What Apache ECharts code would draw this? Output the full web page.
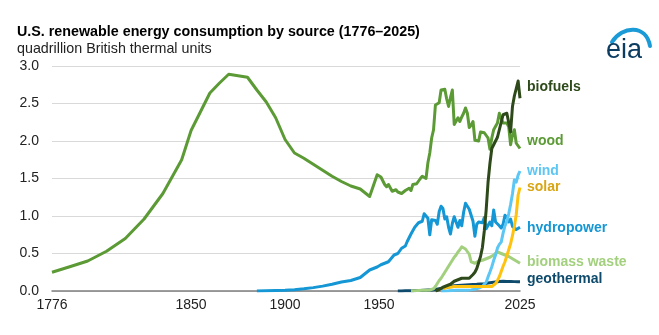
<!DOCTYPE html>
<html>
<head>
<meta charset="utf-8">
<script src="https://cdn.jsdelivr.net/npm/echarts@6/dist/echarts.min.js"></script>
<style>
  html, body { margin: 0; padding: 0; background: #fff; }
  #chart { width: 659px; height: 335px; }
</style>
</head>
<body>
<div id="chart"></div>
<script>
// early estimates (irregular years), then annual data 1949-2025
const earlyYears = [1776, 1785, 1795, 1805, 1815, 1825, 1835, 1845, 1850, 1855, 1860, 1865, 1870, 1875,
  1880, 1885, 1890, 1895, 1900, 1905, 1910, 1915, 1920, 1925, 1930, 1935, 1940, 1945]
const woodEarly = [0.25, 0.32, 0.40, 0.53, 0.70, 0.96, 1.30, 1.75, 2.14, 2.39, 2.64, 2.77, 2.89, 2.87,
  2.85, 2.68, 2.52, 2.31, 2.02, 1.84, 1.77, 1.69, 1.61, 1.53, 1.46, 1.40, 1.36, 1.26]
// hydro from 1885
const hydroEarly = [0.00, 0.003, 0.006, 0.01, 0.018, 0.03, 0.045, 0.065, 0.09, 0.12, 0.14, 0.18, 0.28]

const years = [1949, 1950, 1951, 1952, 1953, 1954, 1955, 1956, 1957, 1958, 1959, 1960, 1961, 1962, 1963,
  1964, 1965, 1966, 1967, 1968, 1969, 1970, 1971, 1972, 1973, 1974, 1975, 1976, 1977, 1978, 1979, 1980,
  1981, 1982, 1983, 1984, 1985, 1986, 1987, 1988, 1989, 1990, 1991, 1992, 1993, 1994, 1995, 1996, 1997,
  1998, 1999, 2000, 2001, 2002, 2003, 2004, 2005, 2006, 2007, 2008, 2009, 2010, 2011, 2012, 2013, 2014,
  2015, 2016, 2017, 2018, 2019, 2020, 2021, 2022, 2023, 2024, 2025]

// each annual array ends in 2025
const wood = [1.55, 1.56, 1.52, 1.47, 1.42, 1.39, 1.42, 1.41, 1.33, 1.32,
  1.35, 1.32, 1.30, 1.30, 1.32, 1.34, 1.34, 1.37, 1.34, 1.42,
  1.44, 1.43, 1.43, 1.50, 1.53, 1.54, 1.50, 1.71, 1.84, 2.04,
  2.15, 2.48, 2.50, 2.51, 2.68, 2.69, 2.69, 2.56, 2.46, 2.58,
  2.68, 2.22, 2.21, 2.31, 2.26, 2.32, 2.37, 2.44, 2.37, 2.18,
  2.21, 2.26, 2.01, 1.99, 2.00, 2.12, 2.14, 2.11, 2.10, 2.04,
  1.89, 2.04, 2.15, 2.13, 2.24, 2.37, 2.30, 2.24, 2.22, 2.24,
  2.19, 1.95, 2.08, 2.15, 1.97, 1.98, 1.90]
const hydropower = [0.32, 0.34, 0.35, 0.36, 0.37, 0.37, 0.39, 0.42, 0.45, 0.48,
  0.47, 0.50, 0.52, 0.57, 0.56, 0.60, 0.66, 0.67, 0.76, 0.76,
  0.85, 0.85, 0.91, 0.93, 0.93, 1.03, 1.02, 0.97, 0.75, 0.95,
  0.95, 0.94, 0.89, 1.06, 1.13, 1.10, 0.96, 0.99, 0.85, 0.76,
  0.90, 0.99, 0.97, 0.85, 0.94, 0.87, 1.05, 1.17, 1.19, 1.09,
  1.07, 0.93, 0.73, 0.89, 0.92, 0.90, 0.91, 0.98, 0.83, 0.85,
  0.92, 0.87, 1.08, 0.92, 0.90, 0.87, 0.84, 0.89, 1.01, 0.98,
  0.92, 0.96, 0.86, 0.87, 0.82, 0.82, 0.85]
// from 1980
const biofuels = [0.00, 0.01, 0.02, 0.04, 0.05, 0.06, 0.07, 0.08, 0.09,
  0.11, 0.13, 0.14, 0.15, 0.16, 0.17, 0.19, 0.17, 0.18, 0.17,
  0.19, 0.22, 0.25, 0.30, 0.38, 0.46, 0.58, 0.80, 1.08, 1.45,
  1.70, 1.90, 1.95, 1.97, 2.05, 2.15, 2.25, 2.35, 2.36, 2.37,
  2.35, 2.12, 2.46, 2.60, 2.70, 2.80, 2.57]
// from 1983
const wind = [0.000, 0.000, 0.001, 0.002, 0.002, 0.003, 0.008, 0.010, 0.010, 0.010,
  0.010, 0.012, 0.011, 0.011, 0.011, 0.010, 0.015, 0.019, 0.023, 0.036,
  0.038, 0.049, 0.061, 0.091, 0.118, 0.188, 0.253, 0.323, 0.409, 0.481,
  0.573, 0.621, 0.652, 0.772, 0.867, 0.930, 1.029, 1.153, 1.296, 1.481,
  1.452, 1.545, 1.600]
// from 1984
const solar = [0.03, 0.05, 0.05, 0.05, 0.05, 0.06, 0.06, 0.06, 0.06, 0.06,
  0.06, 0.06, 0.06, 0.06, 0.06, 0.06, 0.06, 0.06, 0.06, 0.06,
  0.06, 0.06, 0.06, 0.06, 0.06, 0.06, 0.06, 0.07, 0.10, 0.14,
  0.19, 0.26, 0.33, 0.39, 0.47, 0.55, 0.63, 0.74, 0.86, 1.02,
  1.28, 1.38]
// from 1967
const biomassWaste = [0.003, 0.004, 0.005, 0.006, 0.007, 0.008, 0.009, 0.010, 0.011, 0.012,
  0.014, 0.018, 0.030, 0.060, 0.100, 0.140, 0.170, 0.210, 0.250, 0.290,
  0.330, 0.370, 0.410, 0.450, 0.480, 0.520, 0.550, 0.590, 0.570, 0.560,
  0.550, 0.490, 0.390, 0.370, 0.370, 0.390, 0.400, 0.400, 0.410, 0.420,
  0.430, 0.440, 0.450, 0.470, 0.480, 0.500, 0.520, 0.520, 0.500, 0.490,
  0.480, 0.470, 0.460, 0.440, 0.430, 0.420, 0.400, 0.390, 0.370]
// from 1960
const geothermal = [0.001, 0.001, 0.001, 0.002, 0.002, 0.002, 0.002, 0.003, 0.004, 0.005,
  0.006, 0.006, 0.008, 0.010, 0.011, 0.012, 0.013, 0.015, 0.014, 0.016,
  0.020, 0.025, 0.030, 0.034, 0.040, 0.046, 0.051, 0.056, 0.061, 0.066,
  0.070, 0.072, 0.074, 0.076, 0.078, 0.077, 0.080, 0.082, 0.083, 0.086,
  0.087, 0.086, 0.089, 0.092, 0.094, 0.096, 0.098, 0.101, 0.106, 0.110,
  0.114, 0.118, 0.121, 0.125, 0.128, 0.130, 0.131, 0.130, 0.128, 0.127,
  0.127, 0.126, 0.125, 0.124, 0.124, 0.123]

const xTicks = [1776, 1850, 1900, 1950, 2025]

const FONT = '"Liberation Sans", Arial, sans-serif'

// pair a value list with the tail of a year list
function pairs(xs, vs) {
  const start = xs.length - vs.length
  return vs.map((v, i) => [xs[start + i], v])
}

function line(name, data, color, labelColor, dy, z) {
  return {
    name: name,
    type: 'line',
    data: data,
    symbol: 'none',
    z: z,
    lineStyle: { color: color, width: 3, join: 'round' },
    itemStyle: { color: color },
    endLabel: {
      show: true,
      formatter: '{a}',
      color: labelColor,
      fontFamily: FONT,
      fontWeight: 'bold',
      fontSize: 14,
      distance: 7,
      offset: [0, dy]
    }
  }
}

const chart = echarts.init(document.getElementById('chart'))
chart.setOption({
  animation: false,
  textStyle: { fontFamily: FONT },
  title: {
    text: 'U.S. renewable energy consumption by source (1776–2025)',
    subtext: 'quadrillion British thermal units',
    left: 17,
    top: 25,
    itemGap: 3,
    padding: 0,
    textStyle: { fontFamily: FONT, fontSize: 14.3, fontWeight: 'bold', color: '#000' },
    subtextStyle: { fontFamily: FONT, fontSize: 14.3, color: '#222' }
  },
  grid: { left: 52, right: 139, top: 66, bottom: 44 },
  xAxis: {
    type: 'value',
    min: 1776,
    max: 2025,
    splitLine: { show: false },
    axisTick: { show: false },
    axisLine: { lineStyle: { color: '#7f7f7f', width: 1.5 } },
    axisLabel: {
      customValues: xTicks,
      formatter: v => String(v),
      color: '#222',
      fontSize: 14,
      margin: 7
    }
  },
  yAxis: {
    type: 'value',
    min: 0,
    max: 3,
    interval: 0.5,
    axisLine: { show: false },
    axisTick: { show: false },
    splitLine: { lineStyle: { color: '#d9d9d9', width: 1 } },
    axisLabel: {
      formatter: v => v.toFixed(1),
      color: '#222',
      fontSize: 14,
      margin: 13
    }
  },
  graphic: [
    {
      type: 'bezierCurve',
      shape: { x1: 612, y1: 42, cpx1: 622, cpy1: 26, cpx2: 646, cpy2: 24, x2: 650, y2: 46 },
      style: { stroke: '#1a9ad6', lineWidth: 4, fill: null, lineCap: 'round' }
    },
    {
      type: 'text',
      left: 606,
      top: 37,
      style: { text: 'eia', fontFamily: FONT, fontSize: 27, fill: '#0c3c60' }
    }
  ],
  series: [
    line('hydropower', pairs(earlyYears, hydroEarly).concat(pairs(years, hydropower)), '#1497d4', '#1497d4', 1, 2),
    line('geothermal', pairs(years, geothermal), '#0d4a6b', '#0d4a6b', -3, 3),
    line('biomass waste', pairs(years, biomassWaste), '#a3d07e', '#a3d07e', -1, 4),
    line('wood', pairs(earlyYears, woodEarly).concat(pairs(years, wood)), '#5b9a35', '#5b9a35', -7, 5),
    line('wind', pairs(years, wind), '#5cc6f4', '#5cc6f4', 0, 6),
    line('solar', pairs(years, solar), '#ffc20e', '#d9a514', 0, 7),
    line('biofuels', pairs(years, biofuels), '#2e4a1b', '#2e4a1b', -11, 8)
  ]
})
</script>
</body>
</html>
